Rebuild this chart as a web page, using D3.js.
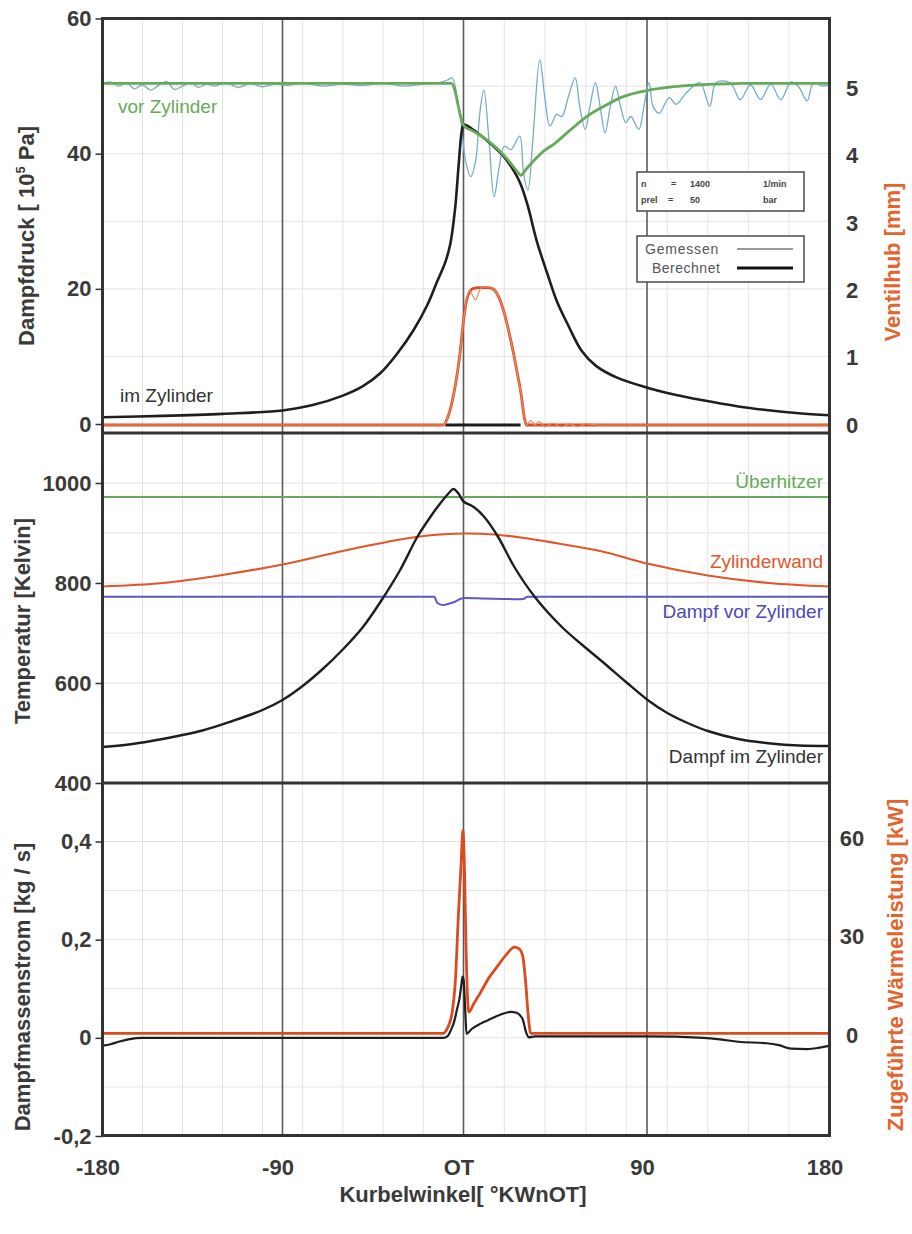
<!DOCTYPE html>
<html><head><meta charset="utf-8">
<script src="https://cdn.jsdelivr.net/npm/d3@7"></script>
<style>body{margin:0;background:#fff} svg{display:block;font-family:"Liberation Sans",Arial,sans-serif}</style>
</head><body><svg id="c" width="912" height="1234"></svg>
<script>
// ---------- DATA ----------
const angleTicks = [-180, -90, 0, 90, 180];
const angleTickLabels = ["-180", "-90", "OT", "90", "180"];
const pressureTicks = [0, 20, 40, 60];
const liftTicks = [0, 1, 2, 3, 4, 5];
const tempTicks = [400, 600, 800, 1000];
const massTicks = [-0.2, 0, 0.2, 0.4];
const massTickLabels = ["-0,2", "0", "0,2", "0,4"];
const heatTicks = [0, 30, 60];

// Dampfdruck vor Zylinder, berechnet [10^5 Pa]
const pFrontCalcAngle = [-180,-6,-4.5,-2.5,0,5,11.6,17,22,26,28.2,31,34.9,39,44.7,52,61.4,70,78,91,100,111,125,137,180];
const pFrontCalc      = [50.4,50.4,49.6,46.9,44.2,43.3,42,40.6,39,37.5,36.8,37.8,39.1,40.3,41.5,43.4,45.7,47.2,48.4,49.4,49.8,50.1,50.3,50.4,50.4];
// Dampfdruck vor Zylinder, gemessen
const pFrontMeasAngle = [-180,-176,-172,-168,-164,-160,-156,-152,-148,-144,-140,-136,-132,-128,-124,-118,-112,-106,-100,-94,-88,-80,-70,-60,-50,-40,-30,-20,-12,-8,-5.6,-3,-1,1,3.5,6,8,10,12.5,15,17.5,20,23.3,27.5,29.5,31.6,34,37.4,40,42.4,45.7,48.2,51.5,54.8,57,59.7,62,64.7,67,69.4,72,74.6,77,79.6,82,86,88.5,91,93,96,101,104.4,109.4,116,121,124,131,136,141,146,151,156,161,165,169,172,177,180];
const pFrontMeas      = [50.3,50.6,50.0,50.5,49.6,50.2,49.4,50.1,50.7,49.5,50.0,50.5,49.8,50.3,50.0,50.5,49.8,50.4,49.9,50.3,50.1,50.4,50.0,50.3,50.1,50.4,50.0,50.3,50.5,50.9,51.2,48.0,44.0,39.0,36.6,39.0,46.0,49.4,42.0,33.6,38.0,41.1,40.6,42.6,37.0,34.6,42.0,53.9,48.0,44.1,45.8,45.5,48.5,51.2,47.0,43.6,47.0,50.5,47.0,43.1,47.0,50.0,47.0,44.6,45.5,43.6,47.0,50.5,47.0,46.0,48.3,47.3,49.0,50.5,47.0,50.5,50.5,48.0,50.2,48.0,50.3,48.0,50.6,49.8,47.8,50.4,50.0,50.2];
// Dampfdruck im Zylinder, berechnet
const pCylAngle = [-180,-150,-120,-90,-75,-60,-50,-41.4,-33,-24.8,-18,-13.2,-9,-6.6,-4.1,-2.5,-0.8,0,5,10,15,20,25,28,31.5,36,41.5,46,51.5,58,65,75,91,100,117.6,135,151,165,180];
const pCyl      = [1.0,1.2,1.5,2.0,2.8,4.2,5.6,7.5,10.4,13.9,17.6,21.0,24.0,26.6,32.1,38,43.5,44.3,43.5,42.3,41,39.5,37.3,35.5,32.3,27,21.9,18,14.5,10.8,8.6,6.9,5.3,4.6,3.5,2.6,2.0,1.6,1.3];
// Ventilhub [mm]
const liftCalcAngle = [-180,-10,-8,-6,-4,-2,0,1.5,3,5,8,12,14,15.8,18,20,22.5,24.9,26.5,28.2,29.9,30.8,180];
const liftCalc      = [0,0,0.1,0.3,0.6,1.0,1.55,1.85,1.98,2.03,2.04,2.04,2.03,1.98,1.85,1.66,1.35,1.01,0.75,0.47,0.1,0,0];
const liftMeasAngle = [-180,-10,-8,-6,-4,-2,0,1.5,3,4.5,6,7.5,9,12,14,15.8,18,20,22.5,24.9,26.5,28.2,29.9,31,33,35,37,40,44,48,52,56,60,66,180];
const liftMeas      = [0,0,0.1,0.3,0.6,1.0,1.55,1.85,2.0,1.92,1.86,1.97,2.05,2.05,2.03,1.98,1.85,1.66,1.35,1.01,0.75,0.47,0.1,0,0.07,0,0.05,-0.03,0.03,-0.03,0.02,-0.03,0.02,0,0];
const liftBaseAngle = [-9, 28];
const liftBase      = [0, 0];

// Temperaturen [K]
const tSuperAngle = [-180, 180];
const tSuper      = [972, 972];
const tWallAngle = [-180,-150,-120,-90,-60,-31.5,-15,0,15,30,45,68,90,120,150,180];
const tWall      = [793,800,816,837,864,887,896,899,897,890,880,863,839,815,800,793];
const tFrontAngle = [-180,-14.5,-13,-10,-7,-4,-1,1,10,20,28,30,31,180];
const tFront      = [772.5,772.5,760,756,759,763,769,770,769,768,767.5,769,772.5,772.5];
const tCylAngle = [-180,-165,-150,-130,-115,-100,-90,-80,-70,-60,-50,-41,-31.5,-23,-16,-11.6,-6.6,-5,-2.5,0,5,10,17,24.8,34.8,48,58,68,80,91,100,110,120,135,151,165,180];
const tCyl      = [472,478,488,505,524,546,566,594,628,667,712,764,826,892,935,959,983,988,979,963,952,933,892,833,773,713,677,643,601,564,540,520,504,488,479,475,474];

// Dampfmassenstrom [kg/s]
const massAngle = [-180,-176,-172,-167,-160,-10,-8,-6,-4.5,-3.3,-2,-1,-0.5,0,0.8,1.5,4,8.4,12,16.7,20,23.3,26,27.5,29,30.8,32,35,90,118,126,135,149,155,161,169,175,180];
const massFlow  = [-0.016,-0.013,-0.008,-0.003,0,0,0.003,0.018,0.035,0.057,0.08,0.11,0.125,0.12,0.06,0.008,0.018,0.029,0.036,0.045,0.05,0.053,0.051,0.047,0.038,0.01,0.001,0.003,0.003,0,-0.003,-0.008,-0.011,-0.015,-0.022,-0.023,-0.02,-0.016];
// Zugeführte Wärmeleistung [kW]
const heatAngle = [-180,-10,-8.5,-7,-5.6,-4,-2.5,-1.2,-0.3,0.5,1.3,2.6,5,8.4,12.5,16.7,21,25,27.3,29,30.5,31.6,33,180];
const heatPower = [0.5,0.5,1.5,3.5,7,17,37,52,62.5,50,25,7,9.5,13,17.5,21,24.5,26.8,26.3,24.2,16,7,0.5,0.5];

// ---------- LAYOUT ----------
const svg = d3.select("#c");
const L = 102.5, R = 829.5;
const P1 = [18.5, 433], P2 = [433, 783], P3 = [783, 1135.5];
const x = d3.scaleLinear().domain([-180,-90,0,90,180]).range([102.5,282.5,463.5,647,829.5]);
const yP = d3.scaleLinear().domain([0,60]).range([424,18.5]);
const yL = d3.scaleLinear().domain([0,6]).range([425,21]);
const yT = d3.scaleLinear().domain([400,1100]).range([783,433]);
const yM = d3.scaleLinear().domain([-0.2,0.4]).range([1136,841.5]);
const yQ = d3.scaleLinear().domain([0,60]).range([1035,838.3]);

const C = {green:"#67a95a", teal:"#74acc8", black:"#1e1e1e", orange:"#dc4b1f", wall:"#e0562c", blue:"#5a5ac6", text:"#3a3a3a", otext:"#e2652e"};
const smooth = d3.curveCatmullRom.alpha(0.5);
const mono = d3.curveMonotoneX;

const defs = svg.append("defs");
[P1,P2,P3].forEach((p,i)=>{
  defs.append("clipPath").attr("id","clip"+i).append("rect").attr("x",L).attr("y",p[0]).attr("width",R-L).attr("height",p[1]-p[0]);
});

// grid
const grid = svg.append("g").attr("stroke","#e3e3e3").attr("stroke-width",1);
d3.range(-160,180,20).forEach(a=>{
  grid.append("line").attr("x1",x(a)).attr("x2",x(a)).attr("y1",P1[0]).attr("y2",P3[1]);
});
d3.range(10,60,10).forEach(v=>grid.append("line").attr("x1",L).attr("x2",R).attr("y1",yP(v)).attr("y2",yP(v)));
d3.range(500,1100,100).forEach(v=>grid.append("line").attr("x1",L).attr("x2",R).attr("y1",yT(v)).attr("y2",yT(v)));
d3.range(-0.1,0.5,0.1).forEach(v=>grid.append("line").attr("x1",L).attr("x2",R).attr("y1",yM(v)).attr("y2",yM(v)));

// major verticals
[-90,0,90].forEach(a=>{
  svg.append("line").attr("x1",x(a)).attr("x2",x(a)).attr("y1",P1[0]).attr("y2",P3[1]).attr("stroke","#5a5a5a").attr("stroke-width",1.6);
});

function draw(panel, ang, val, ys, color, w, curve){
  const pts = ang.map((a,i)=>[a,val[i]]);
  const line = d3.line().x(d=>x(d[0])).y(d=>ys(d[1])).curve(curve||mono);
  svg.append("path").attr("clip-path","url(#clip"+panel+")").attr("d",line(pts))
    .attr("fill","none").attr("stroke",color).attr("stroke-width",w).attr("stroke-linejoin","round");
}

// top panel
draw(0, liftBaseAngle, liftBase, yL, C.black, 3);
draw(0, liftCalcAngle, liftCalc, yL, C.orange, 2.8);
draw(0, liftMeasAngle, liftMeas, yL, "#e88a66", 1.2);
draw(0, pFrontMeasAngle, pFrontMeas, yP, C.teal, 1.3, smooth);
draw(0, pCylAngle, pCyl, yP, C.black, 2.6, smooth);
draw(0, pFrontCalcAngle, pFrontCalc, yP, C.green, 2.8);

// middle panel
draw(1, tSuperAngle, tSuper, yT, C.green, 1.8);
draw(1, tWallAngle, tWall, yT, C.wall, 2.2, smooth);
draw(1, tFrontAngle, tFront, yT, C.blue, 2);
draw(1, tCylAngle, tCyl, yT, C.black, 2.4, smooth);

// bottom panel
draw(2, heatAngle, heatPower, yQ, C.orange, 2.8);
draw(2, massAngle, massFlow, yM, C.black, 2.2);

// frame
const fr = svg.append("g").attr("stroke","#333").attr("stroke-width",3).attr("fill","none");
fr.append("rect").attr("x",L).attr("y",P1[0]).attr("width",R-L).attr("height",P3[1]-P1[0]);
fr.append("line").attr("x1",L).attr("x2",R).attr("y1",P1[1]).attr("y2",P1[1]);
fr.append("line").attr("x1",L).attr("x2",R).attr("y1",P2[1]).attr("y2",P2[1]);

// axes
function styleAxis(g, anchor, dxPos){
  g.select(".domain").remove();
  g.selectAll(".tick line").attr("stroke","#333").attr("stroke-width",1.5);
  g.selectAll(".tick text").attr("font-size",22).attr("font-weight","bold").attr("fill",C.text)
    .attr("font-family","'Liberation Sans',Arial,sans-serif");
  if(anchor){ g.selectAll(".tick text").attr("text-anchor",anchor).attr("x",dxPos); }
}
svg.append("g").attr("transform",`translate(${L},0)`)
  .call(d3.axisLeft(yP).tickValues(pressureTicks).tickSize(7).tickPadding(4).tickFormat(d3.format("d")))
  .call(g=>styleAxis(g));
svg.append("g").attr("transform",`translate(${L},0)`)
  .call(d3.axisLeft(yT).tickValues(tempTicks).tickSize(7).tickPadding(4).tickFormat(d3.format("d")))
  .call(g=>styleAxis(g));
svg.append("g").attr("transform",`translate(${L},0)`)
  .call(d3.axisLeft(yM).tickValues(massTicks).tickSize(7).tickPadding(4).tickFormat((d,i)=>massTickLabels[i]))
  .call(g=>styleAxis(g));
svg.append("g").attr("transform",`translate(${R},0)`)
  .call(d3.axisRight(yL).tickValues(liftTicks).tickSize(0).tickFormat(d3.format("d")))
  .call(g=>styleAxis(g,"middle",22.5));
svg.append("g").attr("transform",`translate(${R},0)`)
  .call(d3.axisRight(yQ).tickValues(heatTicks).tickSize(0).tickFormat(d3.format("d")))
  .call(g=>styleAxis(g,"middle",22.5));
svg.append("g").attr("transform",`translate(0,${P3[1]})`)
  .call(d3.axisBottom(x).tickValues(angleTicks).tickSize(0).tickFormat((d,i)=>angleTickLabels[i]))
  .call(g=>{styleAxis(g); g.selectAll(".tick text").attr("y",39).attr("dy",0).attr("dx",-5);});

// axis titles
function vtitle(txt, xx, yy, color){
  return svg.append("text").attr("transform",`translate(${xx},${yy}) rotate(-90)`).attr("text-anchor","middle")
    .attr("font-size",22).attr("font-weight","bold").attr("fill",color).text(txt);
}
const t1 = svg.append("text").attr("transform","translate(34,236) rotate(-90)").attr("text-anchor","middle")
  .attr("font-size",22).attr("font-weight","bold").attr("fill",C.text);
t1.append("tspan").text("Dampfdruck [ 10");
t1.append("tspan").attr("font-size",13).attr("dy",-9).text("5");
t1.append("tspan").attr("dy",9).text(" Pa]");
vtitle("Temperatur [Kelvin]", 30, 621, C.text);
vtitle("Dampfmassenstrom [kg / s]", 30, 987, C.text);
vtitle("Ventilhub [mm]", 900, 262, C.otext);
vtitle("Zugeführte Wärmeleistung [kW]", 903, 965, C.otext);
svg.append("text").attr("x",463).attr("y",1202).attr("text-anchor","middle").attr("font-size",22)
  .attr("font-weight","bold").attr("fill",C.text).text("Kurbelwinkel[ °KWnOT]");

// curve labels
function lab(txt, xx, yy, color, anchor){
  svg.append("text").attr("x",xx).attr("y",yy).attr("font-size",19).attr("fill",color)
    .attr("text-anchor",anchor||"start").text(txt);
}
lab("vor Zylinder", 118, 113, C.green);
lab("im Zylinder", 120, 402, "#333");
lab("Überhitzer", 823, 488, C.green, "end");
lab("Zylinderwand", 823, 568, C.wall, "end");
lab("Dampf vor Zylinder", 823, 618, "#4a4ab4", "end");
lab("Dampf im Zylinder", 823, 763, "#333", "end");

// info boxes
const b1 = svg.append("g");
b1.append("rect").attr("x",637).attr("y",172).attr("width",167).attr("height",39).attr("fill","#fff").attr("stroke","#555").attr("stroke-width",1.6);
const small = (t,xx,yy)=>b1.append("text").attr("x",xx).attr("y",yy).attr("font-size",9).attr("font-weight","bold").attr("fill","#444").text(t);
small("n",641,187); small("=",671,187); small("1400",690,187); small("1/min",763,187);
small("prel",641,203); small("=",668,203); small("50",690,203); small("bar",763,203);

const b2 = svg.append("g");
b2.append("rect").attr("x",637).attr("y",236).attr("width",167).attr("height",46).attr("fill","#fff").attr("stroke","#555").attr("stroke-width",1.6);
b2.append("text").attr("x",645).attr("y",254).attr("font-size",14).attr("letter-spacing",0.8).attr("fill","#555").text("Gemessen");
b2.append("text").attr("x",652).attr("y",273).attr("font-size",14).attr("letter-spacing",0.5).attr("fill","#555").text("Berechnet");
b2.append("line").attr("x1",737).attr("x2",793).attr("y1",249).attr("y2",249).attr("stroke","#333").attr("stroke-width",1);
b2.append("line").attr("x1",737).attr("x2",793).attr("y1",268).attr("y2",268).attr("stroke","#111").attr("stroke-width",3.2);
</script></body></html>
